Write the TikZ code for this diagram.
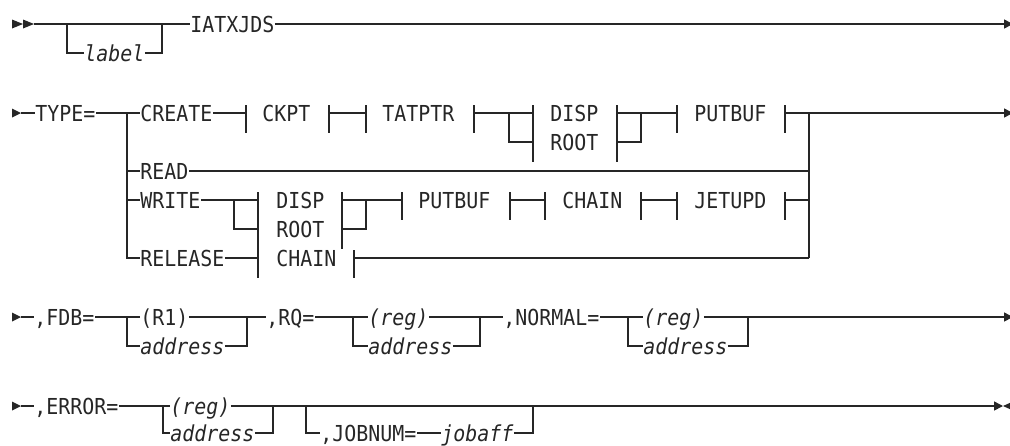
\documentclass[tikz,border=0pt]{standalone}
\usepackage{fontspec}
\newfontfamily\railfont[FakeStretch=0.906]{DejaVu Sans Mono}
\usetikzlibrary{positioning, arrows.meta, calc}
\definecolor{rInk}{HTML}{262626}

\begin{document}
\begin{tikzpicture}[
  x=0.5pt, y=-0.5pt,
  every node/.style={font=\railfont\fontsize{11pt}{13pt}\selectfont, text=rInk},
  kw/.style={inner sep=0pt, anchor=west, text height=8pt, text depth=0pt},
  var/.style={kw, font=\railfont\fontsize{11pt}{13pt}\selectfont\itshape},
  rail/.style={draw=rInk, line width=0.75pt},
  bar/.style={draw=rInk, line width=0.75pt},
  tip/.style={-{Triangle[length=4.5pt, width=4.5pt]}},
]
  \useasboundingbox (0,0) rectangle (1010,445);

  % Row 1: IATXJDS
  \fill[rInk] (12,19.5) -- (23,24) -- (12,28.5) -- cycle;
  \fill[rInk] (23,19.5) -- (34,24) -- (23,28.5) -- cycle;
  \node[kw] (iatx) at (190,24) {IATXJDS};
  \node[var] (lbl) at (84,53) {label};
  \draw[rail] (34,24) -- (iatx.west);
  \draw[rail] (67,24) |- (lbl.west);
  \draw[rail] (lbl.east) -| (162,24);
  \draw[rail, tip] (iatx.east) -- (1013,24);

  % Row 2: TYPE=
  \fill[rInk] (12,108.5) -- (21,113) -- (12,117.5) -- cycle;
  \node[kw] (type) at (35,113) {TYPE=};
  \node[kw] (create) at (140,113) {CREATE};
  \node[kw] (read) at (140,171) {READ};
  \node[kw] (write) at (140,200) {WRITE};
  \node[kw] (release) at (140,258) {RELEASE};
  \draw[rail] (21,113) -- (type.west);
  \draw[rail] (type.east) -- (create.west);
  \draw[rail] (127,113) |- (release.west);
  \draw[rail] (127,171) -- (read.west);
  \draw[rail] (127,200) -- (write.west);

  % CREATE branch
  \node[kw] (ckpt) at (262,113) {CKPT};
  \node[kw] (tatptr) at (382,113) {TATPTR};
  \node[kw] (disp1) at (550,113) {DISP};
  \node[kw] (root1) at (550,142) {ROOT};
  \node[kw] (putbuf1) at (694,113) {PUTBUF};
  \draw[bar] (246,105) -- (246,133) (329,105) -- (329,133)
             (366,105) -- (366,133) (474,105) -- (474,133)
             (533,105) -- (533,162) (617,105) -- (617,162)
             (677,105) -- (677,133) (785,105) -- (785,133);
  \draw[rail] (create.east) -- (246,113);
  \draw[rail] (329,113) -- (366,113);
  \draw[rail] (474,113) -- (533,113);
  \draw[rail] (509,113) |- (533,142);
  \draw[rail] (617,113) -- (677,113);
  \draw[rail] (617,142) -| (641,113);
  \draw[rail, tip] (785,113) -- (1013,113);
  \draw[rail] (809,113) -- (809,258);

  % READ branch
  \draw[rail] (read.east) -- (809,171);

  % WRITE and RELEASE branches
  \node[kw] (disp2) at (276,200) {DISP};
  \node[kw] (root2) at (276,229) {ROOT};
  \node[kw] (chain2) at (276,258) {CHAIN};
  \node[kw] (putbuf2) at (418,200) {PUTBUF};
  \node[kw] (chain3) at (562,200) {CHAIN};
  \node[kw] (jetupd) at (694,200) {JETUPD};
  \draw[bar] (258,192) -- (258,278) (342,192) -- (342,249)
             (354,250) -- (354,278)
             (402,192) -- (402,220) (510,192) -- (510,220)
             (545,192) -- (545,220) (641,192) -- (641,220)
             (677,192) -- (677,220) (785,192) -- (785,220);
  \draw[rail] (write.east) -- (258,200);
  \draw[rail] (234,200) |- (258,229);
  \draw[rail] (release.east) -- (258,258);
  \draw[rail] (342,200) -- (402,200);
  \draw[rail] (342,229) -| (366,200);
  \draw[rail] (510,200) -- (545,200);
  \draw[rail] (641,200) -- (677,200);
  \draw[rail] (785,200) -- (809,200);
  \draw[rail] (354,258) -- (809,258);

  % Row 3: FDB, RQ, NORMAL
  \fill[rInk] (12,312.5) -- (21,317) -- (12,321.5) -- cycle;
  \node[kw] (fdb) at (34,317) {,FDB=};
  \node[kw] (rone) at (140,317) {(R1)};
  \node[var] (addr1) at (140,346) {address};
  \node[kw] (rq) at (266,317) {,RQ=};
  \node[var] (reg2) at (368,317) {(reg)};
  \node[var] (addr2) at (368,346) {address};
  \node[kw] (normal) at (503,317) {,NORMAL=};
  \node[var] (reg3) at (643,317) {(reg)};
  \node[var] (addr3) at (643,346) {address};
  \draw[rail] (21,317) -- (fdb.west);
  \draw[rail] (fdb.east) -- (rone.west);
  \draw[rail] (127,317) |- (addr1.west);
  \draw[rail] (rone.east) -- (rq.west);
  \draw[rail] (addr1.east) -| (247,317);
  \draw[rail] (rq.east) -- (reg2.west);
  \draw[rail] (353,317) |- (addr2.west);
  \draw[rail] (reg2.east) -- (normal.west);
  \draw[rail] (addr2.east) -| (480,317);
  \draw[rail] (normal.east) -- (reg3.west);
  \draw[rail] (628,317) |- (addr3.west);
  \draw[rail, tip] (reg3.east) -- (1013,317);
  \draw[rail] (addr3.east) -| (748,317);

  % Row 4: ERROR, JOBNUM
  \fill[rInk] (12,401.5) -- (21,406) -- (12,410.5) -- cycle;
  \node[kw] (error) at (34,406) {,ERROR=};
  \node[var] (reg4) at (170,406) {(reg)};
  \node[var] (addr4) at (170,433) {address};
  \node[kw] (jobnum) at (320,433) {,JOBNUM=};
  \node[var] (jobaff) at (441,433) {jobaff};
  \draw[rail] (21,406) -- (error.west);
  \draw[rail] (error.east) -- (reg4.west);
  \draw[rail] (163,406) |- (addr4.west);
  \draw[rail] (addr4.east) -| (273,406);
  \draw[rail, tip] (reg4.east) -- (1003,406);
  \fill[rInk] (1003,406) -- (1013,401.5) -- (1013,410.5) -- cycle;
  \draw[rail] (306,406) |- (jobnum.west);
  \draw[rail] (jobnum.east) -- (jobaff.west);
  \draw[rail] (jobaff.east) -| (533,406);
\end{tikzpicture}
\end{document}
